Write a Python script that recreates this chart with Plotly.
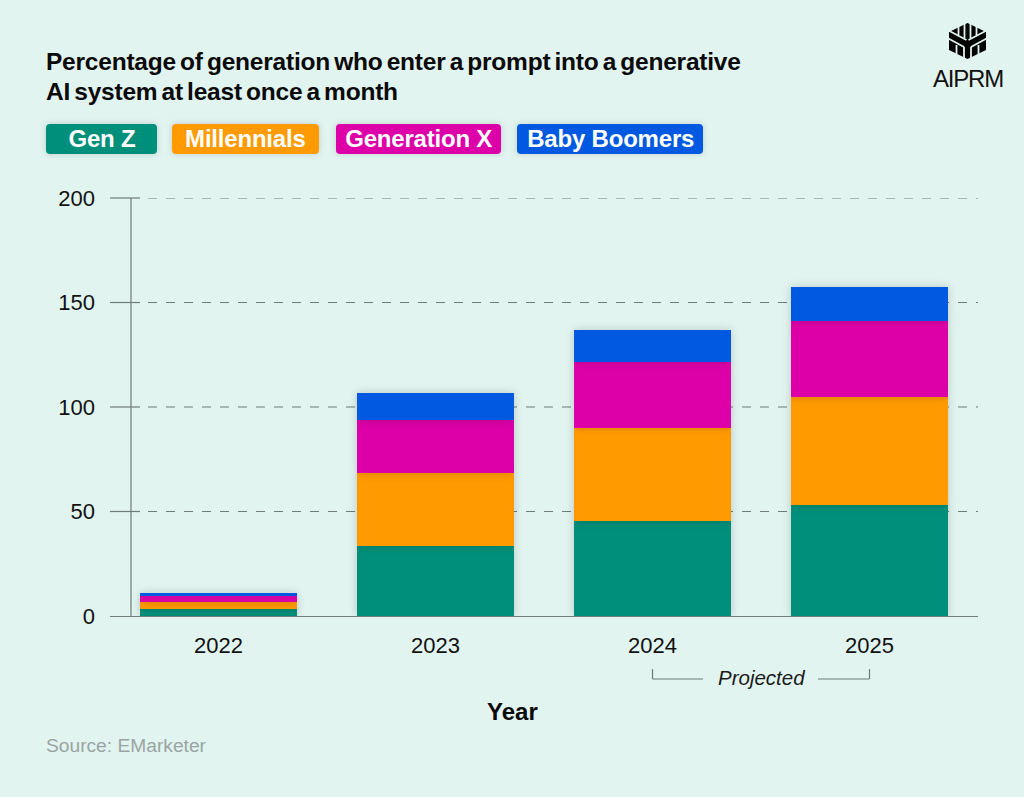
import plotly.graph_objects as go

years = ["2022", "2023", "2024", "2025"]
series_names = ["Gen Z", "Millennials", "Generation X", "Baby Boomers"]
gen_z = [3.3, 33.5, 45.5, 53]
millennials = [3.4, 34.9, 44.5, 52]
generation_x = [2.8, 25.4, 31.5, 36]
baby_boomers = [1.5, 12.9, 15.5, 16.5]
colors = ["#008F7A", "#FF9A00", "#DD00A8", "#0059E0"]
series_values = [gen_z, millennials, generation_x, baby_boomers]
y_ticks = [0, 50, 100, 150, 200]

BG = "#E1F4F0"
W, H = 1024, 797
L, R, T, B = 110, 978, 198, 616
FONT = "Liberation Sans"
GRID = "#6f7b79"

def px(x): return (x - L) / (R - L)
def py(y): return (B - y) / (B - T)

fig = go.Figure()
for name, vals, col in zip(series_names, series_values, colors):
    fig.add_bar(x=years, y=vals, name=name, marker=dict(color=col, line=dict(width=0)), showlegend=False)

shapes = []
ann = []

def pline(x0, y0, x1, y1, color=GRID, width=1.3, dash=None):
    shapes.append(dict(type="line", xref="paper", yref="paper", x0=px(x0), y0=py(y0), x1=px(x1), y1=py(y1),
                       line=dict(color=color, width=width, dash=dash), layer="below"))

def path(points, fill="#000000"):
    d = "M " + " L ".join(f"{px(x):.5f},{py(y):.5f}" for x, y in points) + " Z"
    shapes.append(dict(type="path", xref="paper", yref="paper", path=d, fillcolor=fill, line=dict(width=0), layer="above"))

def text(x, y, s, size, color="#111111", bold=False, anchor="left", italic=False):
    t = f"<b>{s}</b>" if bold else s
    if italic:
        t = f"<i>{t}</i>"
    ann.append(dict(xref="paper", yref="paper", x=px(x), y=py(y), text=t, showarrow=False, xanchor=anchor,
                    yanchor="middle", align=anchor, borderpad=0,
                    font=dict(family=FONT, size=size, color=color)))

# gridlines: short solid tick then dashes
for v in y_ticks[1:]:
    yy = B - (B - T) * v / 200
    pline(110, yy, 140, yy, GRID, 1.2)
    shapes.append(dict(type="line", xref="paper", yref="y", x0=px(148), x1=px(R), y0=v, y1=v,
                       line=dict(color=GRID, width=1.2, dash="9px,9px"), layer="below"))
# vertical axis line
pline(131, T, 131, B, GRID, 1.2)

# Projected bracket
pline(652.5, 669, 652.5, 679, GRID, 1.2)
pline(652.5, 679, 703, 679, GRID, 1.2)
pline(818, 679, 869.5, 679, GRID, 1.2)
pline(869.5, 669, 869.5, 679, GRID, 1.2)
text(761, 677, "Projected", 20.5, "#1a1a1a", italic=True, anchor="center")

# Title
text(45, 61, "Percentage of generation who enter a prompt into a generative", 24.5, "#0a0a0a", bold=True)
text(45, 91, "AI system at least once a month", 24.5, "#0a0a0a", bold=True)

# Legend pills
pills = [(46, 157), (172, 319), (336, 501), (517, 703)]
for (x0, x1), name, col in zip(pills, series_names, colors):
    y0, y1, r = 124, 154, 4
    d = (f"M {px(x0+r)},{py(y0)} L {px(x1-r)},{py(y0)} Q {px(x1)},{py(y0)} {px(x1)},{py(y0+r)} "
         f"L {px(x1)},{py(y1-r)} Q {px(x1)},{py(y1)} {px(x1-r)},{py(y1)} L {px(x0+r)},{py(y1)} "
         f"Q {px(x0)},{py(y1)} {px(x0)},{py(y1-r)} L {px(x0)},{py(y0+r)} Q {px(x0)},{py(y0)} {px(x0+r)},{py(y0)} Z")
    shapes.append(dict(type="path", xref="paper", yref="paper", path=d, fillcolor=col, line=dict(width=0), layer="below"))
    text((x0 + x1) / 2, 138.5, name, 24, "#FFFFFF", bold=True, anchor="center")

# Axis title and source
text(512.5, 711, "Year", 24, "#0a0a0a", bold=True, anchor="center")
text(45, 745, "Source: EMarketer", 19.2, "#9aa5a3")

# Logo
cx, cy = 967.5, 41
path([(cx, 23), (986, 32), (986, 50), (cx, 59), (949, 50), (949, 32)], "#000000")
def wl(x0, y0, x1, y1, w=1.8):
    shapes.append(dict(type="line", xref="paper", yref="paper", x0=px(x0), y0=py(y0), x1=px(x1), y1=py(y1),
                       line=dict(color=BG, width=w), layer="above"))
for dx in (-9, -3, 3, 9):
    wl(cx + dx, 22, cx + dx, 39.5 - abs(dx) * 0.5)
for s in (-1, 1):
    wl(cx + s * 20, 30, cx + s * 1, 40)
    wl(cx + s * 20, 38, cx + s * 3.5, 47)
    wl(cx + s * 3.5, 47, cx + s * 3.5, 60)
    wl(cx + s * 11, 45, cx + s * 11, 58)
text(968, 78, "AIPRM", 24, "#111111", anchor="center")

fig.update_layout(
    width=W, height=H, barmode="stack", bargap=0.2765,
    paper_bgcolor=BG, plot_bgcolor=BG,
    margin=dict(l=L, r=W - R, t=T, b=H - B, pad=0),
    font=dict(family=FONT, color="#111111"),
    shapes=shapes, annotations=ann,
    xaxis=dict(type="category", range=[-0.5, 3.5], showgrid=False, showline=True, linecolor=GRID, linewidth=1.3,
               ticks="", tickfont=dict(size=22, color="#111111"), ticklabelstandoff=9, fixedrange=True, zeroline=False),
    yaxis=dict(range=[0, 200], tickvals=y_ticks, showgrid=False, showline=False, zeroline=False, ticks="",
               tickfont=dict(size=22, color="#111111"), ticklabelstandoff=14, fixedrange=True),
)

post = """
document.body.style.margin='0';
document.body.style.background='#E1F4F0';
document.querySelectorAll('.barlayer .trace').forEach(function(t){t.style.filter='drop-shadow(0 0 4px rgba(0,0,0,0.18))';});
document.querySelectorAll('.annotation-text').forEach(function(t){
  var s=t.textContent;
  if(s.indexOf('Percentage')==0||s.indexOf('AI system')==0){t.style.letterSpacing='-0.22px';t.style.wordSpacing='-2.4px';}
  else if(s=='AIPRM'){t.style.letterSpacing='-1.2px';}
  else if(['Gen Z','Millennials','Generation X','Baby Boomers'].indexOf(s)>=0){t.style.letterSpacing='-0.2px';}
});
document.querySelectorAll('.layer-below .shapelayer path').forEach(function(p){
  if((p.getAttribute('d')||'').indexOf('Q')>=0){p.style.filter='drop-shadow(0 0 3px rgba(0,0,0,0.15))';}
});
"""
fig.write_html("out.html", post_script=post, config=dict(displayModeBar=False))
